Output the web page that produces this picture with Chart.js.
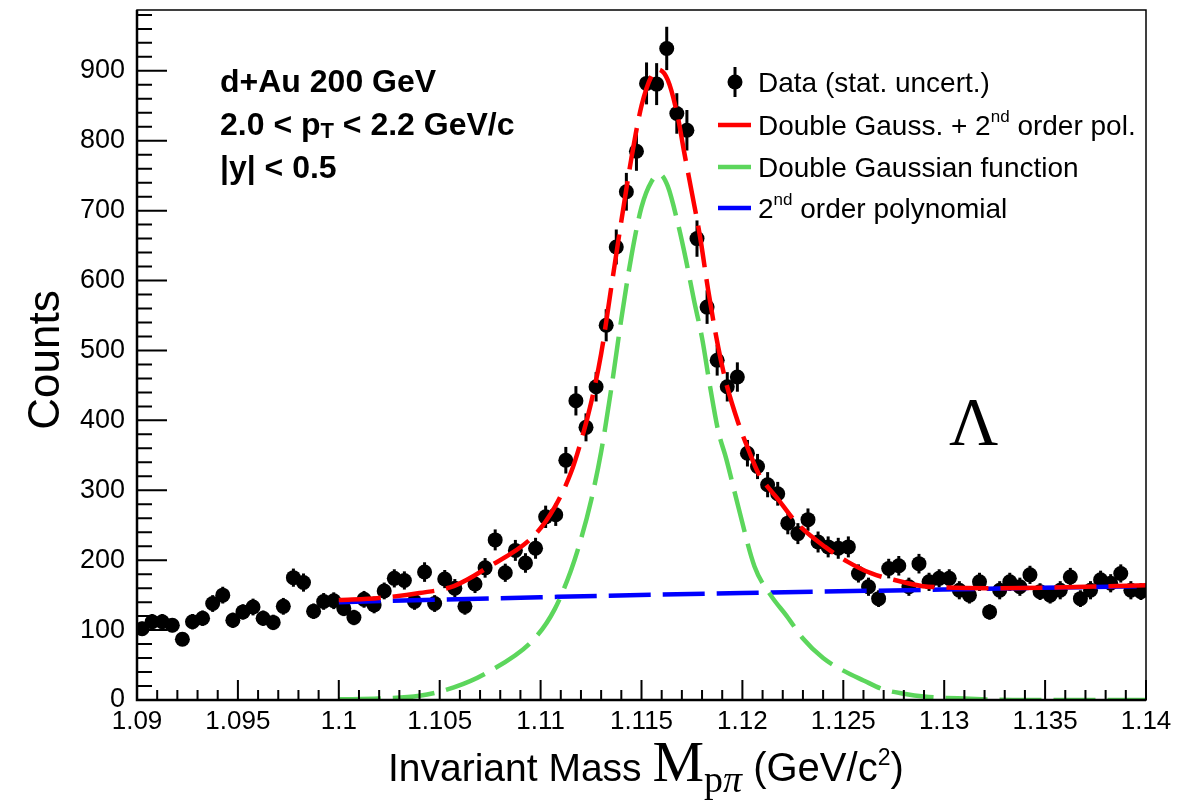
<!DOCTYPE html>
<html>
<head>
<meta charset="utf-8">
<script src="https://cdn.jsdelivr.net/npm/chart.js"></script>
<style>
  html, body { margin: 0; padding: 0; background: #fff; }
  canvas { display: block; }
</style>
</head>
<body>
<canvas id="massChart" width="1204" height="802"></canvas>
<script>
// histogram: 100 bins of 0.5 MeV from 1.09 to 1.14 GeV/c2
var binLow = 1.09;
var binWidth = 0.0005;
var counts = [102, 112, 112, 107, 87, 112, 117, 138, 150, 114,
    126, 133, 117, 111, 134, 175, 168, 127, 141, 142,
    131, 118, 144, 136, 156, 174, 171, 141, 183, 138,
    173, 160, 134, 166, 189, 229, 182, 214, 196, 217,
    262, 265, 343, 428, 390, 448, 536, 648, 727, 785,
    882, 881, 932, 839, 815, 660, 562, 486, 448, 462,
    353, 334, 308, 295, 253, 238, 258, 226, 219, 217,
    219, 181, 162, 145, 188, 192, 162, 195, 169, 174,
    174, 157, 150, 169, 126, 157, 169, 162, 179, 155,
    150, 157, 176, 145, 157, 172, 167, 181, 157, 155];
var countErrors = [10, 11, 11, 10, 9, 11, 11, 12, 12, 11,
    11, 12, 11, 11, 12, 13, 13, 11, 12, 12,
    11, 11, 12, 12, 12, 13, 13, 12, 14, 12,
    13, 13, 12, 13, 14, 15, 13, 15, 14, 15,
    16, 16, 19, 21, 20, 21, 23, 25, 27, 28,
    30, 30, 31, 29, 29, 26, 24, 22, 21, 21,
    19, 18, 18, 17, 16, 15, 16, 15, 15, 15,
    15, 13, 13, 12, 14, 14, 13, 14, 13, 13,
    13, 13, 12, 13, 11, 13, 13, 13, 13, 12,
    12, 13, 13, 12, 13, 13, 13, 13, 13, 12];

// fit curves
var totalX = [1.1, 1.102, 1.104, 1.1057, 1.1074, 1.1097, 1.1107, 1.1115, 1.112, 1.1125,
    1.113, 1.1135, 1.114, 1.1145, 1.115, 1.1155, 1.1158, 1.1163, 1.1168, 1.1171,
    1.1175, 1.1179, 1.1183, 1.1188, 1.1192, 1.1198, 1.1203, 1.1208, 1.1218, 1.1227,
    1.1241, 1.1252, 1.1264, 1.1275, 1.1292, 1.1325, 1.14];
var totalY = [143, 146, 153, 163, 190, 236, 276, 325, 370, 425,
    495, 590, 685, 775, 850, 893, 902, 887, 834, 786,
    725, 663, 587, 505, 453, 396, 358, 324, 286, 253,
    219, 198, 181, 172, 162, 160, 164];
var signalX = [1.1, 1.102, 1.104, 1.1057, 1.1074, 1.1097, 1.1107, 1.1115, 1.112, 1.1125,
    1.113, 1.1135, 1.114, 1.1145, 1.115, 1.1155, 1.1159, 1.1163, 1.1168, 1.1172,
    1.1176, 1.118, 1.1184, 1.1188, 1.1192, 1.1198, 1.1206, 1.1214, 1.1222, 1.123,
    1.124, 1.125, 1.126, 1.127, 1.128, 1.129, 1.131, 1.134, 1.14];
var signalY = [1, 2, 6, 18, 40, 88, 130, 185, 230, 285,
    355, 445, 545, 635, 705, 742, 752, 735, 682, 630,
    572, 518, 448, 385, 345, 276, 191, 150, 120, 88,
    60, 42, 28, 15, 9, 5, 2, 0, 0];
var bkgX = [1.1, 1.11, 1.12, 1.13, 1.14];
var bkgY = [140, 147, 153, 158, 163];

var labels = ['Data (stat. uncert.)', 'Double Gauss. + 2', 'Double Gaussian function', '2'];

function pairs(xs, ys) {
    return xs.map(function (x, i) { return { x: x, y: ys[i] }; });
}

var points = counts.map(function (c, i) {
    return { x: binLow + binWidth * (i + 0.5), y: c };
});

var sans = '"Liberation Sans", Arial, Helvetica, sans-serif';
var serif = '"Liberation Serif", "Times New Roman", serif';

// draw a run of text pieces with their own font and vertical shift
function richText(ctx, x, y, parts) {
    parts.forEach(function (p) {
        ctx.font = p.font;
        ctx.fillText(p.t, x, y + (p.dy || 0));
        x += ctx.measureText(p.t).width;
    });
}

var rootStyle = {
    id: 'rootStyle',
    beforeDatasetDraw: function (chart, args) {
        if (args.index !== 0) return;
        var ctx = chart.ctx, ys = chart.scales.y;
        ctx.save();
        ctx.strokeStyle = '#000';
        ctx.lineWidth = 3;
        args.meta.data.forEach(function (el, i) {
            ctx.beginPath();
            ctx.moveTo(el.x, ys.getPixelForValue(counts[i] + countErrors[i]));
            ctx.lineTo(el.x, ys.getPixelForValue(counts[i] - countErrors[i]));
            ctx.stroke();
        });
        ctx.restore();
    },
    afterDraw: function (chart) {
        var ctx = chart.ctx, a = chart.chartArea;
        var xs = chart.scales.x, ys = chart.scales.y;
        ctx.save();
        ctx.strokeStyle = '#000';
        ctx.fillStyle = '#000';

        // frame
        ctx.lineWidth = 1.5;
        ctx.strokeRect(a.left, a.top, a.right - a.left, a.bottom - a.top);
        ctx.lineWidth = 2.5;
        ctx.beginPath();
        ctx.moveTo(a.left, a.top);
        ctx.lineTo(a.left, a.bottom);
        ctx.lineTo(a.right, a.bottom);
        ctx.stroke();

        // ticks inside the frame
        ctx.lineWidth = 2;
        ctx.beginPath();
        for (var k = 0; k * 20 <= ys.max; k++) {
            var py = ys.getPixelForValue(k * 20);
            ctx.moveTo(a.left, py);
            ctx.lineTo(a.left + (k % 5 === 0 ? 30 : 15), py);
        }
        for (var j = 0; j <= 50; j++) {
            var px = xs.getPixelForValue(binLow + j * 0.001);
            ctx.moveTo(px, a.bottom);
            ctx.lineTo(px, a.bottom - (j % 5 === 0 ? 20 : 10));
        }
        ctx.stroke();

        // axis titles
        ctx.textAlign = 'left';
        ctx.textBaseline = 'alphabetic';
        richText(ctx, 388, 781, [
            { t: 'Invariant Mass ', font: '39px ' + sans },
            { t: 'M', font: '58px ' + serif },
            { t: 'p', font: '38px ' + serif, dy: 11 },
            { t: '\u03c0', font: 'italic 38px ' + serif, dy: 11 },
            { t: ' (GeV/c', font: '40px ' + sans },
            { t: '2', font: '23px ' + sans, dy: -16 },
            { t: ')', font: '40px ' + sans }
        ]);
        ctx.save();
        ctx.translate(59, 360);
        ctx.rotate(-Math.PI / 2);
        ctx.textAlign = 'center';
        ctx.font = '44px ' + sans;
        ctx.fillText('Counts', 0, 0);
        ctx.restore();

        // system labels
        var bold = 'bold 32px ' + sans;
        richText(ctx, 220, 92, [{ t: 'd+Au 200 GeV', font: bold }]);
        richText(ctx, 220, 135, [
            { t: '2.0 < p', font: bold },
            { t: 'T', font: 'bold 22px ' + sans, dy: 3 },
            { t: ' < 2.2 GeV/c', font: bold }
        ]);
        richText(ctx, 220, 178, [{ t: '|y| < 0.5', font: bold }]);

        ctx.font = '68px ' + serif;
        ctx.fillText('\u039b', 949, 444);

        // legend
        var lf = '28px ' + sans, sf = '17px ' + sans;
        var ds = chart.data.datasets;
        ctx.lineWidth = 3;
        ctx.beginPath();
        ctx.moveTo(735, 67);
        ctx.lineTo(735, 97);
        ctx.stroke();
        ctx.beginPath();
        ctx.arc(735, 82, 7.5, 0, Math.PI * 2);
        ctx.fill();
        richText(ctx, 758, 92, [{ t: ds[0].label, font: lf }]);
        var rows = [[3, 125, true, ' order pol.'], [2, 167, false, ''], [1, 208, true, ' order polynomial']];
        rows.forEach(function (r) {
            var d = ds[r[0]];
            ctx.strokeStyle = d.borderColor;
            ctx.lineWidth = 4.5;
            ctx.beginPath();
            ctx.moveTo(718, r[1]);
            ctx.lineTo(751, r[1]);
            ctx.stroke();
            var parts = [{ t: d.label, font: lf }];
            if (r[2]) {
                parts.push({ t: 'nd', font: sf, dy: -13 });
                parts.push({ t: r[3], font: lf });
            }
            richText(ctx, 758, r[1] + 10, parts);
        });
        ctx.restore();
    }
};

function curve(label, xs, ys, color, order) {
    return {
        label: label,
        data: pairs(xs, ys),
        showLine: true,
        borderColor: color,
        borderWidth: 4.5,
        borderDash: [42, 12],
        pointRadius: 0,
        cubicInterpolationMode: 'monotone',
        order: order
    };
}

var ctx = document.getElementById('massChart').getContext('2d');
var massChart = new Chart(ctx, {
    type: 'scatter',
    data: {
        datasets: [
            {
                label: labels[0],
                data: points,
                pointRadius: 7.5,
                pointBackgroundColor: '#000',
                pointBorderColor: '#000',
                pointBorderWidth: 0,
                order: 4
            },
            curve(labels[3], bkgX, bkgY, '#0000ff', 3),
            curve(labels[2], signalX, signalY, '#5cd65c', 2),
            curve(labels[1], totalX, totalY, '#ff0000', 1)
        ]
    },
    plugins: [rootStyle],
    options: {
        responsive: false,
        devicePixelRatio: 1,
        animation: false,
        events: [],
        layout: { padding: { left: 0, top: 10, right: 58, bottom: 0 } },
        plugins: {
            legend: { display: false },
            tooltip: { enabled: false }
        },
        scales: {
            x: {
                type: 'linear',
                min: 1.09,
                max: 1.14,
                grid: { display: false, drawTicks: false },
                border: { display: false },
                afterFit: function (s) { s.height = 102; s.paddingLeft = 0; s.paddingRight = 0; },
                ticks: {
                    stepSize: 0.005,
                    autoSkip: false,
                    maxRotation: 0,
                    padding: 6,
                    color: '#000',
                    font: { family: sans, size: 26 },
                    callback: function (v) { return String(+v.toFixed(3)); }
                }
            },
            y: {
                min: 0,
                max: 987,
                grid: { display: false, drawTicks: false },
                border: { display: false },
                afterFit: function (s) { s.width = 137; s.paddingTop = 0; s.paddingBottom = 0; },
                ticks: {
                    stepSize: 100,
                    includeBounds: false,
                    padding: 12,
                    color: '#000',
                    font: { family: sans, size: 27 }
                }
            }
        }
    }
});
</script>
</body>
</html>
